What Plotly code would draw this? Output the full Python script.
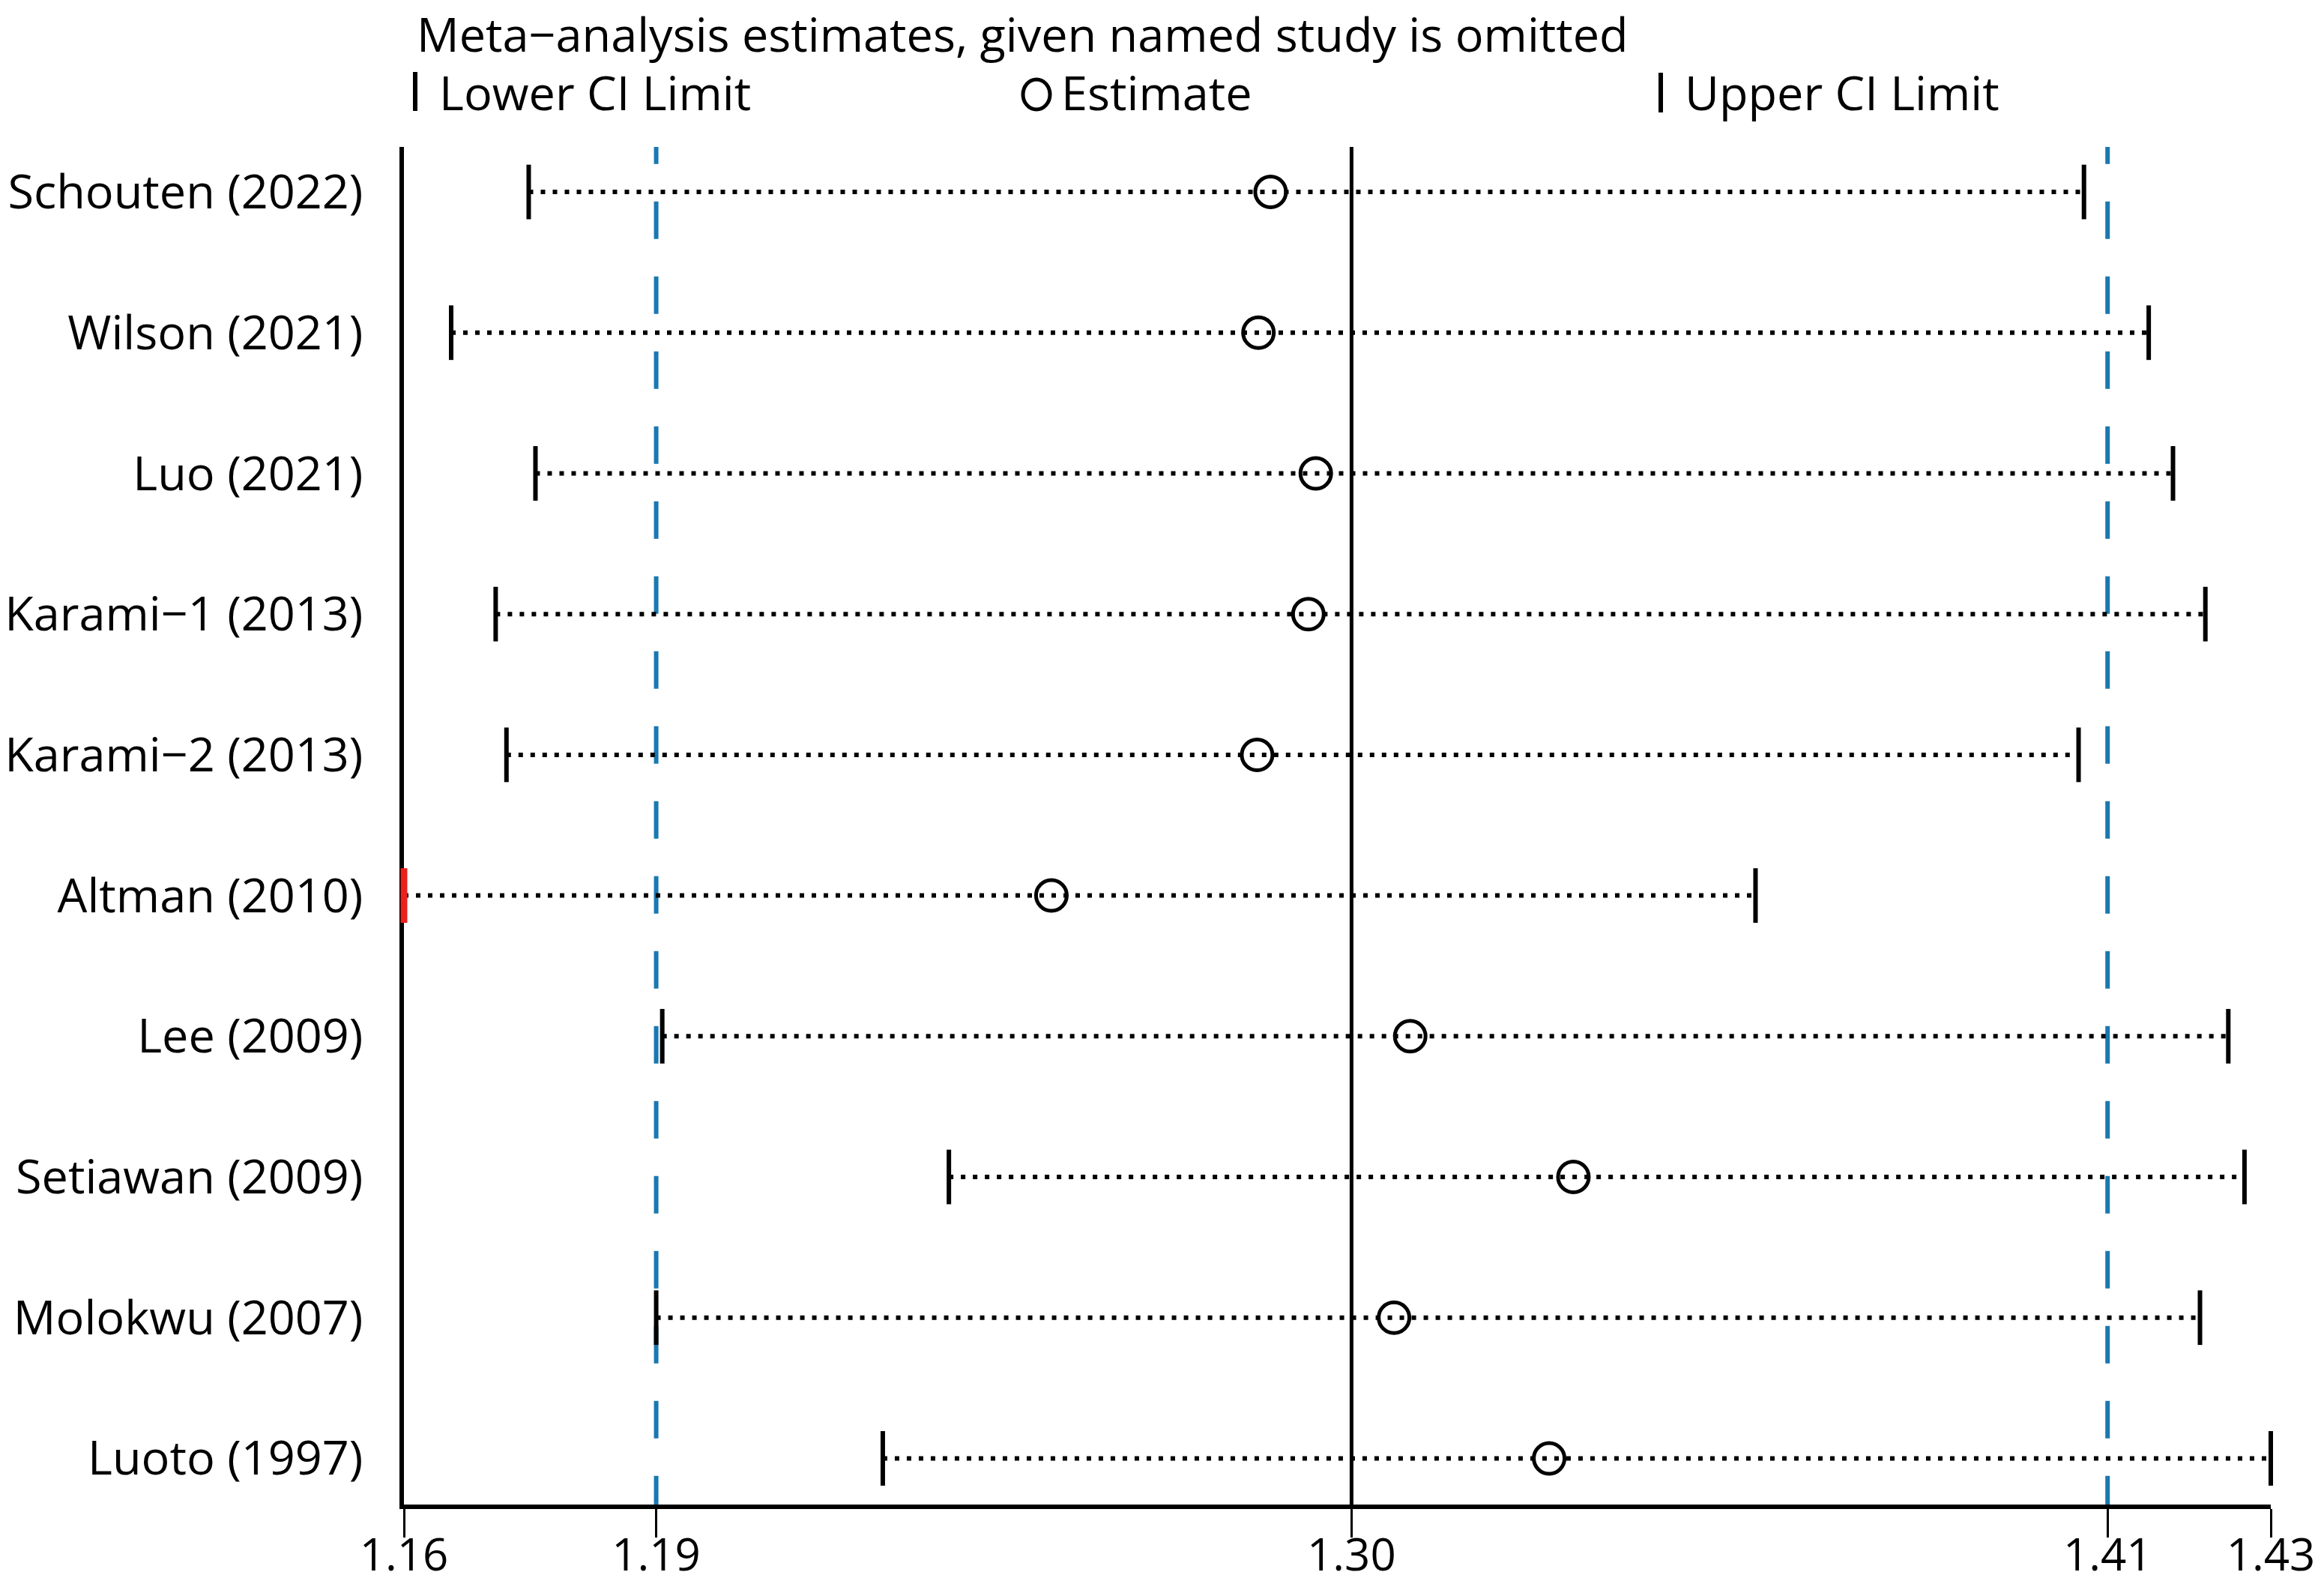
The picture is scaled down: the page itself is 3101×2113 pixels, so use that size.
import plotly.graph_objects as go

# ---------------- data ----------------
studies = ["Schouten (2022)", "Wilson (2021)", "Luo (2021)", "Karami\u22121 (2013)",
           "Karami\u22122 (2013)", "Altman (2010)", "Lee (2009)", "Setiawan (2009)",
           "Molokwu (2007)", "Luoto (1997)"]
lower_ci = [1.1756, 1.1641, 1.1766, 1.1707, 1.1723, 1.1571, 1.1954, 1.2379, 1.1945, 1.2281]
estimate = [1.2856, 1.2838, 1.2923, 1.2912, 1.2836, 1.2531, 1.3063, 1.3305, 1.3039, 1.3269]
upper_ci = [1.4062, 1.4158, 1.4194, 1.4242, 1.4054, 1.3575, 1.4276, 1.4300, 1.4234, 1.4339]

overall_lower = 1.1945
overall_estimate = 1.2976
overall_upper = 1.4097

axis_min = 1.1571
axis_max = 1.4339
tick_values = [axis_min, overall_lower, overall_estimate, overall_upper, axis_max]
tick_labels = ["1.16", "1.19", "1.30", "1.41", "1.43"]

title_text = "Meta\u2212analysis estimates, given named study is omitted"
legend_labels = ["Lower CI Limit", "Estimate", "Upper CI Limit"]

# ---------------- layout constants ----------------
W, H = 3101, 2113
ML, MR, MT, MB = 539, 71, 196, 106
PW = W - ML - MR
PH = H - MT - MB
FONT = "Open Sans"
FS = 63
BLUE = "#1a78b0"
RED = "#e8221c"

def px_x(p):
    return (p - ML) / PW

def px_y(p):
    return (H - MB - p) / PH

rows = list(range(len(studies)))
y_top, y_bot = -0.32, 9.328

fig = go.Figure()

# overall CI (blue dashed) and overall estimate (black solid)
fig.add_trace(go.Scatter(
    x=[overall_lower, overall_lower, None, overall_upper, overall_upper],
    y=[-0.465, 9.6, None, -0.465, 9.6],
    mode="lines", line=dict(color=BLUE, width=6, dash="50px,50px"),
    hoverinfo="skip", showlegend=False))
fig.add_trace(go.Scatter(
    x=[overall_estimate, overall_estimate], y=[-0.6, 9.6],
    mode="lines", line=dict(color="black", width=5),
    hoverinfo="skip", showlegend=False))

# dotted CI lines
cx, cy = [], []
for lo, hi, r in zip(lower_ci, upper_ci, rows):
    cx += [lo, hi, None]
    cy += [r, r, None]
fig.add_trace(go.Scatter(x=cx, y=cy, mode="lines",
                         line=dict(color="black", width=6, dash="6px,10px"),
                         hoverinfo="skip", showlegend=False))

# CI limit bars
lower_colors = [RED if v <= axis_min else "black" for v in lower_ci]
lower_widths = [9 if v <= axis_min else 6 for v in lower_ci]
fig.add_trace(go.Scatter(x=lower_ci, y=rows, mode="markers", cliponaxis=False,
                         marker=dict(symbol="line-ns-open", size=52, color=lower_colors,
                                     line=dict(width=lower_widths)),
                         name=legend_labels[0], showlegend=False))
fig.add_trace(go.Scatter(x=upper_ci, y=rows, mode="markers", cliponaxis=False,
                         marker=dict(symbol="line-ns-open", size=52, color="black",
                                     line=dict(width=6)),
                         name=legend_labels[2], showlegend=False))
# estimates
fig.add_trace(go.Scatter(x=estimate, y=rows, mode="markers", cliponaxis=False,
                         marker=dict(symbol="circle-open", size=41, color="black",
                                     line=dict(width=5)),
                         name=legend_labels[1], showlegend=False))

# ---------------- header: title + legend keys ----------------
annotations = [
    dict(text=title_text, x=px_x(554), y=px_y(0), xanchor="left", yanchor="top"),
    dict(text=legend_labels[0], x=px_x(584), y=px_y(122), xanchor="left", yanchor="middle"),
    dict(text=legend_labels[1], x=px_x(1414), y=px_y(122), xanchor="left", yanchor="middle"),
    dict(text=legend_labels[2], x=px_x(2246), y=px_y(122), xanchor="left", yanchor="middle"),
]
for a in annotations:
    a.update(xref="paper", yref="paper", showarrow=False,
             font=dict(family=FONT, size=FS, color="black"))

shapes = [
    dict(type="line", xref="paper", yref="paper", x0=px_x(554), x1=px_x(554),
         y0=px_y(96), y1=px_y(148), line=dict(color="black", width=6)),
    dict(type="line", xref="paper", yref="paper", x0=px_x(2216), x1=px_x(2216),
         y0=px_y(97), y1=px_y(150), line=dict(color="black", width=6)),
    dict(type="circle", xref="paper", yref="paper",
         x0=px_x(1383 - 18), x1=px_x(1383 + 18), y0=px_y(126 - 20), y1=px_y(126 + 20),
         line=dict(color="black", width=5)),
]

fig.update_layout(
    width=W, height=H,
    margin=dict(l=ML, r=MR, t=MT, b=MB, pad=0, autoexpand=False),
    paper_bgcolor="white", plot_bgcolor="white",
    font=dict(family=FONT, size=FS, color="black"),
    showlegend=False,
    annotations=annotations, shapes=shapes,
    xaxis=dict(range=[axis_min, axis_max], tickvals=tick_values, ticktext=tick_labels,
               automargin=False,
               showline=True, linewidth=6, linecolor="black", mirror=False,
               ticks="outside", ticklen=38, tickwidth=3, tickcolor="black",
               ticklabelstandoff=-28,
               showgrid=False, zeroline=False, layer="below traces",
               tickfont=dict(family=FONT, size=60, color="black")),
    yaxis=dict(range=[y_bot, y_top], tickvals=rows, ticktext=studies,
               automargin=False,
               showline=True, linewidth=6, linecolor="black",
               ticks="", ticklabelstandoff=36,
               showgrid=False, zeroline=False, layer="below traces",
               tickfont=dict(family=FONT, size=FS, color="black")),
)

fig.write_html("out.html", config={"displayModeBar": False},
               post_script="document.body.style.margin='0';document.body.style.overflow='hidden';")
